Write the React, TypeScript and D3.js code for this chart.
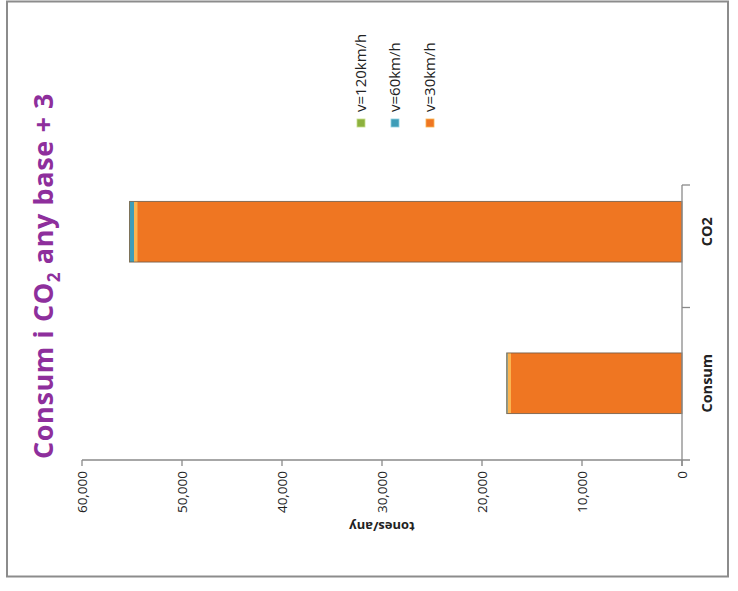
import React from "react";
import * as d3 from "d3";

const categories = ["CO2", "Consum"];
const seriesNames = ["v=30km/h", "v=60km/h", "v=120km/h"];
const v30 = [54800, 17450];
const v60 = [400, 60];
const v120 = [50, 20];
const tickValues = [0, 10000, 20000, 30000, 40000, 50000, 60000];
const colors = ["#EF7622", "#3E9DB8", "#8DB13E"];
const lightColors = ["#FBB450", "#8ED0E2", "#C6DE8A"];

const W = 738;
const H = 591;

export default function App() {
  const x = d3.scaleLinear().domain([0, 60000]).range([682, 82]);
  const y = d3.scaleBand<string>().domain(categories).range([156, 459]);
  const bw = y.bandwidth();
  const barW = bw / 2.5;
  const fmt = d3.format(",");

  const rows = categories.map((c, i) => ({ cat: c, vals: [v30[i], v60[i], v120[i]] }));
  const stack = d3
    .stack<any>()
    .keys(["0", "1", "2"])
    .value((d, k) => d.vals[+k]);
  const stacked = stack(rows as any);

  const legendOrder = [2, 1, 0];
  const legendX = [361, 395, 430];

  return (
    <svg
      width={W}
      height={H}
      style={{ position: "absolute", left: 0, top: 0, background: "#fff" }}
      fontFamily="'Open Sans', 'DejaVu Sans', sans-serif"
    >
      <rect x={7} y={1.5} width={721} height={575} fill="#fff" stroke="#8c8c8c" strokeWidth={2} />

      {/* Title */}
      <text
        transform="translate(53,276) rotate(-90)"
        textAnchor="middle"
        fill="#8E2F9C"
        fontSize={27}
        fontWeight="bold"
        letterSpacing={0.6}
      >
        Consum i CO<tspan fontSize={17} dy={7}>2</tspan>
        <tspan dy={-7}> any base + 3</tspan>
      </text>

      {/* Bars */}
      {stacked.map((layer, si) =>
        layer.map((seg, ci) => {
          const cat = categories[ci];
          const y0 = (y(cat) as number) + (bw - barW) / 2;
          const xl = x(seg[1]);
          const xr = x(seg[0]);
          const w = Math.max(0, xr - xl);
          return (
            <g key={si + "-" + ci}>
              <rect x={xl} y={y0} width={w} height={barW} fill={colors[si]} />
              {w > 6 && (
                <rect x={xl} y={y0} width={3.5} height={barW} fill={lightColors[si]} />
              )}
            </g>
          );
        })
      )}
      {categories.map((c, i) => {
        const y0 = (y(c) as number) + (bw - barW) / 2;
        const total = v30[i] + v60[i] + v120[i];
        return (
          <rect
            key={"o" + c}
            x={x(total)}
            y={y0}
            width={x(0) - x(total)}
            height={barW}
            fill="none"
            stroke="#6b5a48"
            strokeWidth={1}
            strokeOpacity={0.8}
          />
        );
      })}

      {/* Value axis (bottom) */}
      <line x1={82} x2={690} y1={460} y2={460} stroke="#8a8a8a" strokeWidth={1.3} />
      {tickValues.map((t) => (
        <g key={t}>
          <line x1={x(t)} x2={x(t)} y1={460} y2={466} stroke="#8a8a8a" strokeWidth={1.3} />
          <text
            transform={`translate(${x(t)},471) rotate(-90)`}
            textAnchor="end"
            dy="0.35em"
            fontSize={13.5}
            fill="#222"
          >
            {fmt(t)}
          </text>
        </g>
      ))}
      <text
        transform="translate(382,527) rotate(180)"
        textAnchor="middle"
        dy="0.35em"
        fontSize={13}
        fontWeight="bold"
        fill="#222"
      >
        tones/any
      </text>

      {/* Category axis (right) */}
      <line x1={682} x2={682} y1={185} y2={466} stroke="#8a8a8a" strokeWidth={1.3} />
      {[185, y("Consum") as number].map((ty, i) => (
        <line key={i} x1={682} x2={690} y1={ty} y2={ty} stroke="#8a8a8a" strokeWidth={1.3} />
      ))}
      {categories.map((c) => (
        <text
          key={c}
          transform={`translate(707,${(y(c) as number) + bw / 2}) rotate(-90)`}
          textAnchor="middle"
          dy="0.35em"
          fontSize={14.5}
          fontWeight="bold"
          fill="#222"
        >
          {c}
        </text>
      ))}

      {/* Legend */}
      {legendOrder.map((si, i) => (
        <g key={si}>
          <rect x={legendX[i] - 4} y={119} width={8} height={8} fill={colors[si]} stroke={lightColors[si]} strokeWidth={0.8} />
          <text
            transform={`translate(${legendX[i]},112) rotate(-90)`}
            textAnchor="start"
            dy="0.35em"
            fontSize={15}
            fill="#222"
          >
            {seriesNames[si]}
          </text>
        </g>
      ))}
    </svg>
  );
}
